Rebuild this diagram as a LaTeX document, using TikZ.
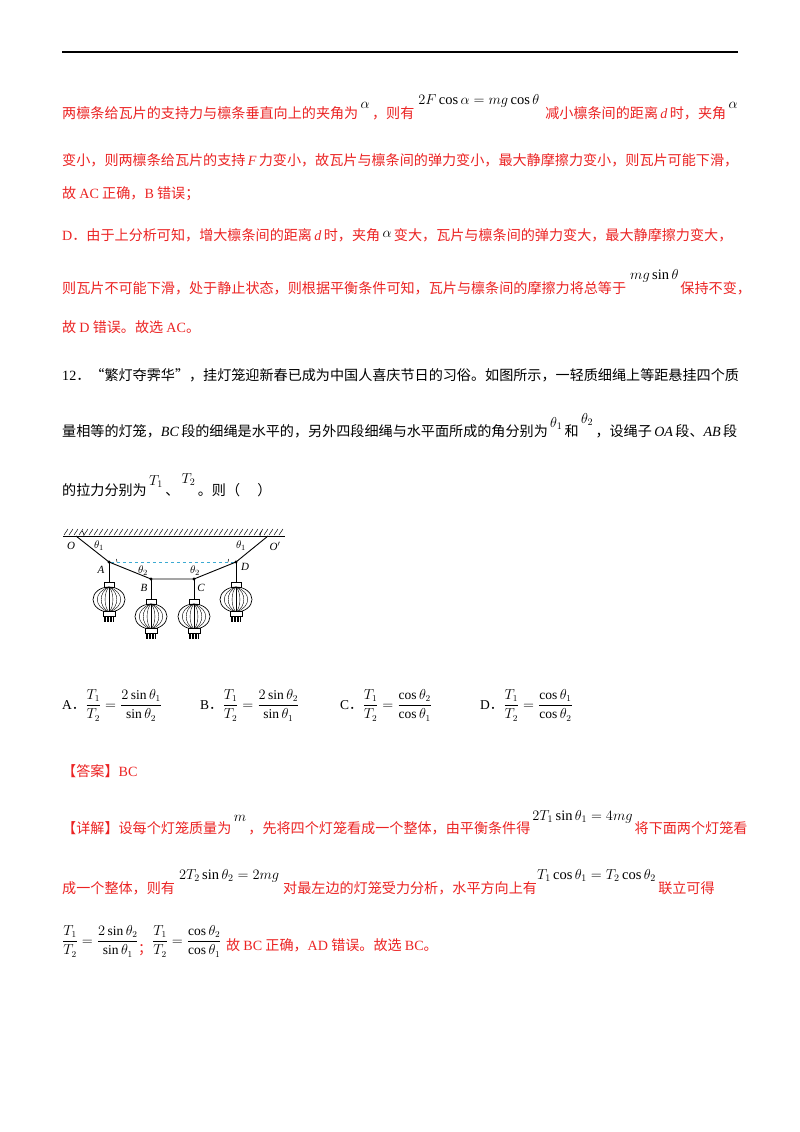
\documentclass[tikz,border=0pt]{standalone}
\usepackage{fontspec}
\setmainfont{Liberation Serif}
\newfontfamily\cjk{Noto Sans CJK SC}
\definecolor{rd}{RGB}{235,35,35}
\definecolor{cy}{RGB}{60,170,210}
\tikzset{
 t/.style={anchor=base west,inner sep=0,font=\cjk\fontsize{14.1}{15}\selectfont,text=rd},
 tb/.style={t,text=black},
 fm/.style={anchor=base west,inner sep=0,font=\fontsize{13.5}{14}\selectfont,text=black},
 lb/.style={inner sep=0,font=\fontsize{11}{12}\selectfont\itshape},
 dotp/.style={circle,fill,inner sep=1.2pt},
}
\newcommand\up[2]{\raisebox{#1pt}{\fontsize{14.5}{15}\selectfont\color{black}$#2$}}
\newcommand\mylantern[2]{%
 \begin{scope}[shift={(#1,#2)}]
  \draw[line width=0.8pt] (0,0) -- (0,20);
  \draw[line width=0.6pt] (-5,20) rectangle (5,25);
  \draw[line width=0.7pt] (0,37.5) ellipse (16 and 12.5);
  \foreach \k in {0.25,0.5,0.75} {\draw[line width=0.4pt] (0,25) .. controls (16*\k*1.3,30) and (16*\k*1.3,45) .. (0,50);
   \draw[line width=0.4pt] (0,25) .. controls (-16*\k*1.3,30) and (-16*\k*1.3,45) .. (0,50);}
  \draw[line width=0.4pt] (0,25) -- (0,50);
  \draw[line width=0.6pt,fill=white] (-6,49) rectangle (6,54);
  \foreach \q in {-5,-3.5,...,5} \draw[line width=0.4pt] (\q,54) -- (\q,60);
 \end{scope}}
\newcommand\dotcn{{\cjk ．}}
\begin{document}
\begin{tikzpicture}[x=1pt,y=-1pt]
\useasboundingbox (0,0) rectangle (800,1132);
\draw[line width=1.6pt] (62,52) -- (738,52);
\node[t] (l1) at (62,118) {两檩条给瓦片的支持力与檩条垂直向上的夹角为\,\up{10}{\alpha}\,，则有\hspace{4pt}\up{14}{2F\cos\alpha=mg\cos\theta}\hspace{6pt}减小檩条间的距离\,{\rmfamily\itshape d}\,时，夹角\,\up{10}{\alpha}};
\node[t] (l2) at (62,165) {变小，则两檩条给瓦片的支持\,{\rmfamily\itshape F}\,力变小，故瓦片与檩条间的弹力变小，最大静摩擦力变小，则瓦片可能下滑，};
\node[t] (l3) at (62,198) {故 {\rmfamily AC} 正确，{\rmfamily B} 错误；};
\node[t] (l4) at (62,240) {{\rmfamily D}．由于上分析可知，增大檩条间的距离\,{\rmfamily\itshape d}\,时，夹角\,\up{3}{\alpha}\,变大，瓦片与檩条间的弹力变大，最大静摩擦力变大，};
\node[t] (l5) at (62,293) {则瓦片不可能下滑，处于静止状态，则根据平衡条件可知，瓦片与檩条间的摩擦力将总等于\hspace{4pt}\up{14}{mg\sin\theta}\hspace{2pt}保持不变，};
\node[t] (l6) at (62,332) {故 {\rmfamily D} 错误。故选 {\rmfamily AC}。};
\node[tb] (q1) at (62,380) {{\rmfamily 12}．“繁灯夺霁华”，挂灯笼迎新春已成为中国人喜庆节日的习俗。如图所示，一轻质细绳上等距悬挂四个质};
\node[tb] (q2) at (62,436) {量相等的灯笼，{\rmfamily\itshape BC}\,段的细绳是水平的，另外四段细绳与水平面所成的角分别为\,\up{9}{\theta_1}\,和\,\up{13}{\theta_2}\,，设绳子\,{\rmfamily\itshape OA}\,段、{\rmfamily\itshape AB}\,段};
\node[tb] (q3) at (62,495) {的拉力分别为\,\up{10}{T_1}\,、\,\up{12}{T_2}\,。则（\quad\ ）};
% diagram
\draw[line width=0.9pt] (63,536) -- (285,536);
\foreach \h in {64,69,...,282} \draw[line width=0.5pt] (\h,535) -- (\h+4,529);
\coordinate (O) at (76,536);
\coordinate (O2) at (268,536);
\node[dotp] (A) at (109,562) {};
\node[dotp] (B) at (151,579) {};
\node[dotp] (C) at (194,579) {};
\node[dotp] (D) at (236,562) {};
\draw[cy,dashed,line width=0.7pt] (A) -- (D);
\draw[line width=0.9pt] (O) -- (A.center) -- (B.center) -- (C.center) -- (D.center) -- (O2);
\draw[line width=0.5pt] (84,536) arc (0:-39:8);
\draw[line width=0.5pt] (260,536) arc (180:219:8);
\draw[line width=0.5pt] (117,562) arc (0:-22:8);
\draw[line width=0.5pt] (228,562) arc (180:202:8);
\mylantern{109}{562}
\mylantern{151}{579}
\mylantern{194}{579}
\mylantern{236}{562}
\node[lb] (lO) at (71,546) {O};
\node[lb] (lt1) at (99,546) {$\theta_1$};
\node[lb] (lt1b) at (241,546) {$\theta_1$};
\node[lb] (lO2) at (275,546) {O$'$};
\node[lb] (lA) at (101,570) {A};
\node[lb] (lt2) at (143,571) {$\theta_2$};
\node[lb] (lt2b) at (195,571) {$\theta_2$};
\node[lb] (lB) at (144,588) {B};
\node[lb] (lC) at (201,588) {C};
\node[lb] (lD) at (245,567) {D};
% options
\node[fm] (oA) at (62,709) {A\dotcn$\displaystyle\frac{T_1}{T_2}=\frac{2\sin\theta_1}{\sin\theta_2}$};
\node[fm] (oB) at (200,709) {B\dotcn$\displaystyle\frac{T_1}{T_2}=\frac{2\sin\theta_2}{\sin\theta_1}$};
\node[fm] (oC) at (340,709) {C\dotcn$\displaystyle\frac{T_1}{T_2}=\frac{\cos\theta_2}{\cos\theta_1}$};
\node[fm] (oD) at (480,709) {D\dotcn$\displaystyle\frac{T_1}{T_2}=\frac{\cos\theta_1}{\cos\theta_2}$};
% answer
\node[t] (ans) at (62,776) {【答案】{\rmfamily BC}};
\node[t] (d1) at (62,833) {【详解】设每个灯笼质量为\,\up{12}{m}\,，先将四个灯笼看成一个整体，由平衡条件得\hspace{2pt}\up{13}{2T_1\sin\theta_1=4mg}\hspace{2pt}将下面两个灯笼看};
\node[t] (d2) at (62,893) {成一个整体，则有\hspace{4pt}\up{14}{2T_2\sin\theta_2=2mg}\hspace{4pt}对最左边的灯笼受力分析，水平方向上有\up{14}{T_1\cos\theta_1=T_2\cos\theta_2}\,联立可得};
\node[fm] (d3a) at (62,945) {$\displaystyle\frac{T_1}{T_2}=\frac{2\sin\theta_2}{\sin\theta_1}$};
\node[t] (d3b) at (138,953) {；};
\node[fm] (d3c) at (152,945) {$\displaystyle\frac{T_1}{T_2}=\frac{\cos\theta_2}{\cos\theta_1}$};
\node[t] (d3d) at (226,950) {故 {\rmfamily BC} 正确，{\rmfamily AD} 错误。故选 {\rmfamily BC}。};
\end{tikzpicture}
\end{document}
